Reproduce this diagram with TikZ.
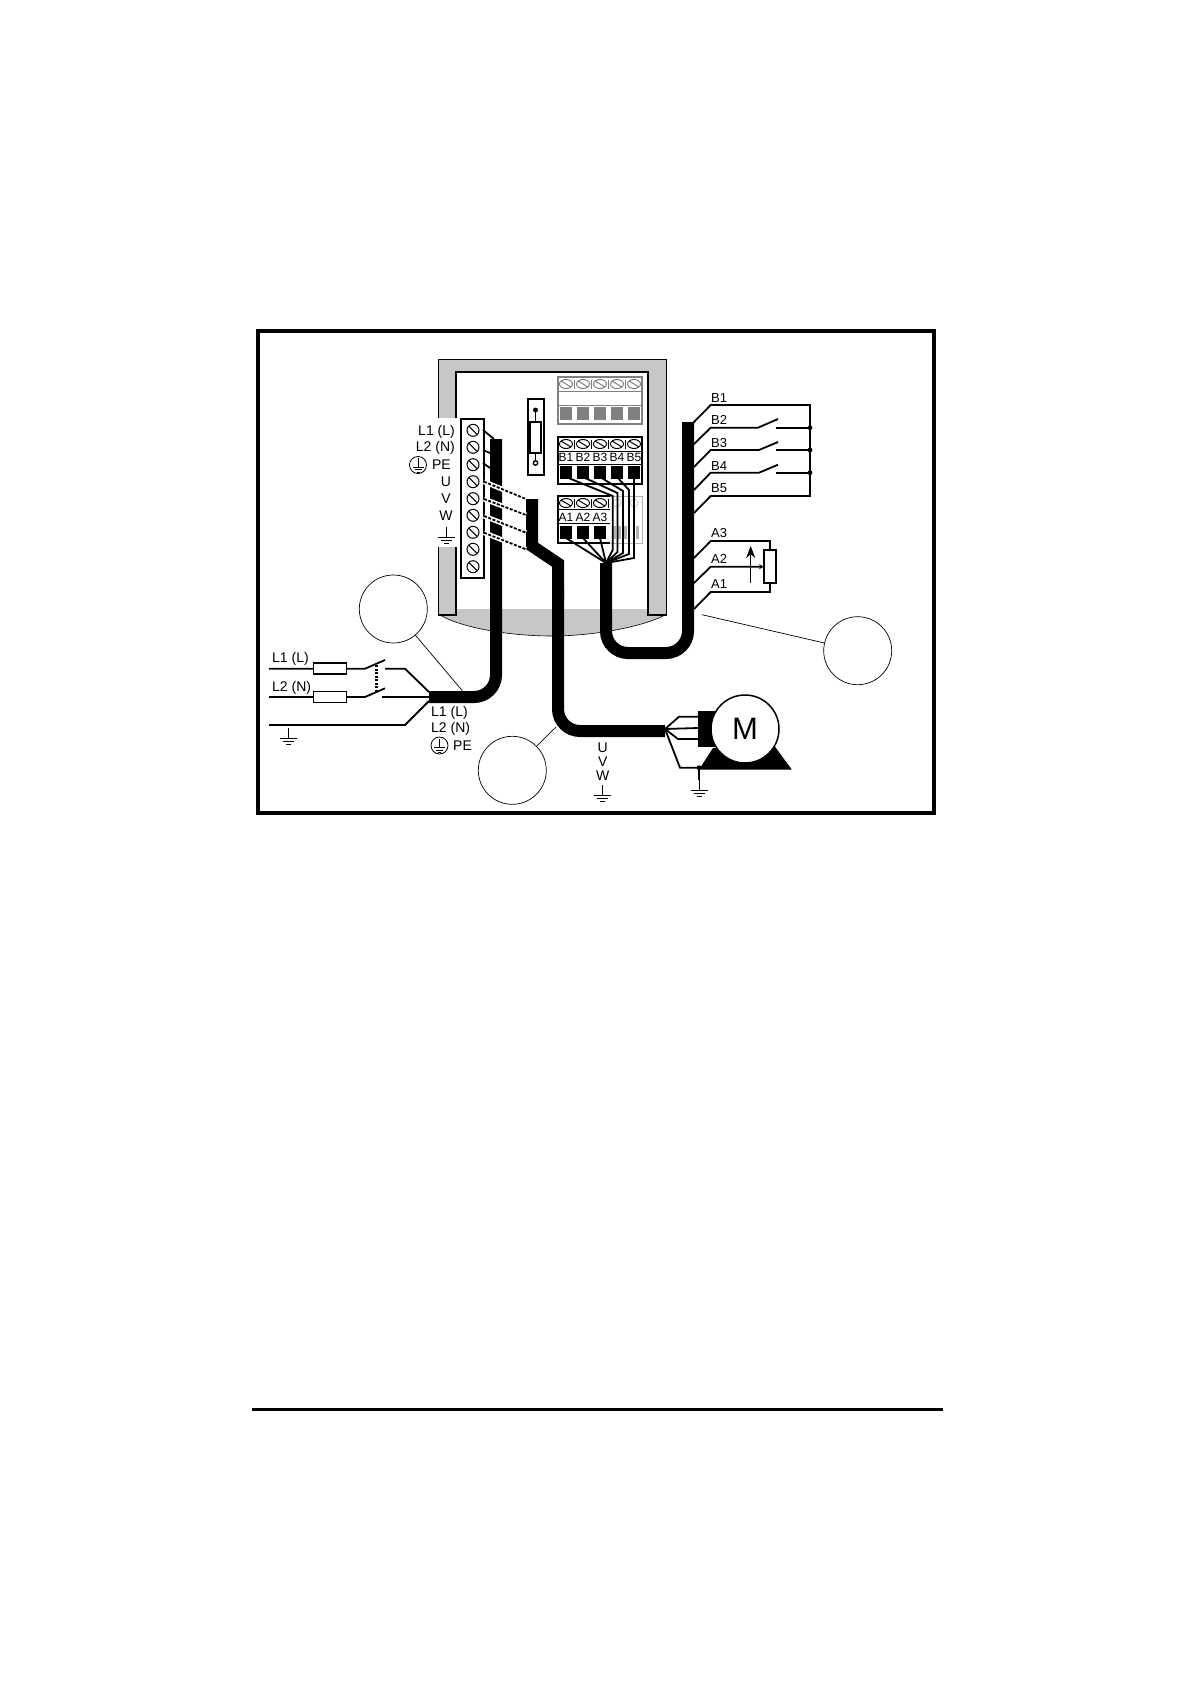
\documentclass[tikz,border=0pt]{standalone}
\usepackage{fontspec}
\setmainfont{Liberation Sans}
\usetikzlibrary{arrows.meta}
\definecolor{cabgrey}{gray}{0.78}
\definecolor{padgrey}{gray}{0.5}
\tikzset{
  wire/.style={line width=1.8pt},
  cable/.style={line width=12pt,rounded corners=22pt},
  thin line/.style={line width=0.7pt},
  callout/.style={circle,draw,line width=0.7pt,minimum size=68pt,inner sep=0pt},
  lab/.style={font=\fontsize{14}{14}\selectfont,inner sep=0pt},
  tag/.style={font=\fontsize{13}{13}\selectfont,inner sep=0pt,anchor=west},
  blocktag/.style={font=\fontsize{12}{12}\selectfont,inner sep=0pt},
  gnd/.pic={
    \draw[line width=1pt] (0,0)--(0,10);
    \draw[line width=1pt] (-8.5,10)--(8.5,10);
    \draw[line width=1pt] (-5.5,13)--(5.5,13);
    \draw[line width=1pt] (-2.5,16)--(2.5,16);
  },
  earth/.pic={
    \draw[line width=0.8pt] (0,0) circle (8.5pt);
    \draw[line width=0.8pt] (0,-7)--(0,2);
    \draw[line width=0.8pt] (-5.5,2)--(5.5,2);
    \draw[line width=0.8pt] (-3.5,4.5)--(3.5,4.5);
    \draw[line width=0.8pt] (-1.5,7)--(1.5,7);
  },
  screwrow/.pic={
    \foreach \x in {0,17,34,51,68}{
      \draw[line width=1pt] (\x,0) ellipse (6.5pt and 4.5pt);
      \draw[line width=1pt] (\x-5,-3)--(\x+5,3);
    }
    \foreach \x in {8.5,25.5,42.5,59.5}
      \draw[line width=1.8pt] (\x,-4.5)--(\x,4.5);
  }
}
\begin{document}
\begin{tikzpicture}[x=1pt,y=-1pt]
\useasboundingbox (0,0) rectangle (1190,1684);
% outer frame and bottom rule
\draw[line width=4.5pt] (258,331) rectangle (934,813);
\draw[line width=3pt] (252,1409.5)--(943,1409.5);
% cabinet
\fill[cabgrey] (456,609)--(648,609)--(648,615)--(665,615) .. controls (640,628) and (590,636) .. (552,636) .. controls (510,636) and (462,628) .. (440,615)--(456,615)--cycle;
\draw[line width=0.6pt] (665,615) .. controls (640,628) and (590,636) .. (552,636) .. controls (510,636) and (462,628) .. (440,615);
\draw[fill=cabgrey,line width=0.8pt] (438,615)--(438,359)--(666,359)--(666,615)--(648,615)--(648,372)--(456,372)--(456,615)--cycle;
\draw[line width=1.5pt] (438,615)--(456,615)--(456,372)--(648,372)--(648,615)--(666,615);
\fill[white] (436,418) rectangle (460,547);
% small fuse holder
\draw[line width=1.4pt] (528,399) rectangle (544,475);
\draw[line width=1.4pt] (535.5,410)--(535.5,460);
\fill (535.5,410) circle (2.5pt);
\draw[line width=1.4pt,fill=white] (535.5,463) circle (2.2pt);
\draw[line width=1.7pt,fill=white] (530,422) rectangle (541,453);
% grey block
\begin{scope}[padgrey]
\draw[line width=1.2pt] (558,377) rectangle (642,424);
\draw[line width=1pt] (558,391)--(642,391);
\draw[line width=0.6pt] (558,405)--(642,405);
\pic[padgrey] at (566,384) {screwrow};
\foreach \x in {566,583,600,617,634}
  \fill (\x-6,407) rectangle (\x+6,420);
\end{scope}
% B block
\draw[line width=1.2pt] (558,437) rectangle (642,484);
\draw[line width=1pt] (558,451)--(642,451);
\draw[line width=1pt] (558,464)--(642,464);
\pic at (566,444) {screwrow};
\foreach \x/\t in {566/B1,583/B2,600/B3,617/B4,634/B5}{
  \fill (\x-6,466) rectangle (\x+6,479);
  \node[blocktag] (blk\t) at (\x,457.5) {\t};
}
% A block
\draw[line width=0.6pt,gray!60] (558,496) rectangle (642,543);
\draw[line width=1.2pt] (610,496)--(558,496)--(558,543)--(610,543);
\draw[line width=1pt] (558,509)--(610,509);
\draw[line width=1pt] (558,523)--(610,523);
\pic at (566,503) {screwrow};
\fill[white] (609,497) rectangle (641,509);
\foreach \x in {617,634}
  \draw[gray!50,line width=0.7pt] (\x,503) circle (4pt);
\foreach \x in {614,619.5,625.5,637.5}
  \fill[gray!60] (\x-1.5,526) rectangle (\x+1.5,539);
\foreach \x/\t in {566/A1,583/A2,600/A3}{
  \fill (\x-6,526) rectangle (\x+6,539);
  \node[blocktag] (blk\t) at (\x,517.5) {\t};
}
% wires from the blocks into the cable
\coordinate (hub) at (606,563);
\draw[wire] (566,477)--(612.7,496)--(612.7,550)--(hub);
\draw[wire] (583,477)--(617.5,493)--(617.5,552)--(hub);
\draw[wire] (600,477)--(623,491)--(623,553)--(hub);
\draw[wire] (617,477)--(629,490)--(629,554)--(hub);
\draw[wire] (634,477)--(634,558)--(hub);
\foreach \x in {566,583,600}
  \draw[wire] (\x,538)--(hub);
% terminal strip
\draw[line width=1.3pt,fill=white] (461,419) rectangle (484,578);
\foreach \y in {430.3,447.3,464.7,481.7,498.7,515.3,532.3,549.3,566.7}{
  \draw[line width=1pt] (473,\y) circle (6pt);
  \draw[line width=1pt] (469,\y-4)--(477,\y+4);
}
% cables
\draw[cable] (429,697)--(496,697)--(496,439);
\draw[cable,rounded corners=0pt,miter limit=10] (532,499)--(532,546)--(558,563.5)--(558,600);
\draw[cable] (558,590)--(558,731)--(665,731);
\draw[cable] (606,563)--(606,653)--(688,653)--(688,422);
% wires from strip
\draw[wire] (483,430)--(494,439);
\draw[wire] (483,450)--(490,453);
\draw[wire] (483,463)--(490,468);
\foreach \ya/\yb in {481.7/499,499/515,516/532.7,532.7/549.3}{
  \draw[white,line width=5pt] (484,\ya)--(526,\yb);
  \draw[line width=1.8pt,dash pattern=on 3pt off 1.6pt] (484,\ya)--(526,\yb);
}
% mains side
\draw[wire] (269,668.7)--(365,668.7)--(385,660);
\draw[wire] (385,668.7)--(405,668.7)--(429,692);
\draw[wire] (269,697)--(365,697)--(385,688.3);
\draw[wire] (382,697)--(429,697);
\draw[wire] (269,725)--(405,725)--(429,701);
\draw[wire,fill=white] (313.5,663) rectangle (346.5,674);
\draw[wire,fill=white] (313.5,691.5) rectangle (346.5,702.5);
\draw[line width=2.5pt,dash pattern=on 2pt off 1.5pt] (376.7,665)--(376.7,692);
\pic at (288.5,728) {gnd};
\node[lab,anchor=west] (inL1) at (272,659) {L1 (L)};
\node[lab,anchor=west] (inL2) at (272,687.5) {L2 (N)};
\node[lab,anchor=west] (outL1) at (431,712.5) {L1 (L)};
\node[lab,anchor=west] (outL2) at (431,729) {L2 (N)};
\pic at (439.5,745.5) {earth};
\node[lab,anchor=west] (outPE) at (453,745.5) {PE};
% labels at the strip
\node[lab,anchor=east] (stL1) at (455,431.5) {L1 (L)};
\node[lab,anchor=east] (stL2) at (455,448) {L2 (N)};
\pic at (418,465) {earth};
\node[lab,anchor=east] (stPE) at (451,465) {PE};
\node[lab] (stU) at (446,482) {U};
\node[lab] (stV) at (446,499) {V};
\node[lab] (stW) at (446,516) {W};
\pic at (446.5,527) {gnd};
% control side
\draw[wire] (693,423)--(710.7,405)--(810,405)--(810,496)--(710.7,496)--(694,513);
\draw[wire] (694,444)--(710.7,427.7)--(758,427.7)--(778,419);
\draw[wire] (776,427.7)--(810,427.7);
\draw[wire] (694,467)--(710.7,450)--(759,450)--(778,442);
\draw[wire] (776,450)--(810,450);
\draw[wire] (694,490)--(710.7,472.7)--(759,472.7)--(778,464.7);
\draw[wire] (776,472.7)--(810,472.7);
\foreach \y in {427.7,450,472.7}
  \fill (810,\y) circle (2.4pt);
\draw[wire] (694,558)--(710.7,541)--(770,541)--(770,550);
\draw[wire] (694,609)--(710.7,592)--(770,592)--(770,583);
\draw[wire,-{Stealth[length=5pt,width=5pt]}] (694,583)--(710.7,566.7)--(764,566.7);
\draw[line width=2pt,fill=white] (764,550) rectangle (776,583);
\draw[line width=0.9pt,-{Stealth[length=12pt,width=9pt]}] (750.7,582.7)--(750.7,546);
\foreach \t/\y in {B1/397.7,B2/420.3,B3/442.7,B4/465.7,B5/488.3,A3/533.3,A2/559.3,A1/584.3}
  \node[tag] (ext\t) at (711,\y) {\t};
% motor
\fill (699,769.5)--(713,748)--(775,746.7)--(791.7,769.5)--cycle;
\fill (698.3,711) rectangle (716,746.7);
\node[circle,draw,line width=1.5pt,fill=white,minimum size=68pt,inner sep=0pt,font=\fontsize{31}{31}\selectfont] (motor) at (745,729) {M};
\coordinate (fan) at (665,729);
\draw[wire] (fan)--(679,716.7)--(698,716.7);
\draw[wire] (fan)--(698,728);
\draw[wire] (fan)--(678,739)--(698,739);
\draw[wire] (fan)--(680,767.7)--(699,767.7)--(699,780);
\fill (699,767.7) circle (2.4pt);
\pic at (699,780) {gnd};
\node[lab] (motU) at (602.7,747.3) {U};
\node[lab] (motV) at (602.7,761.7) {V};
\node[lab] (motW) at (602.7,775.7) {W};
\pic at (602.7,785) {gnd};
% call-out circles
\node[callout] (callMains) at (393.3,609) {};
\node[callout] (callMotor) at (512.3,770.3) {};
\node[callout] (callCtrl) at (857.7,650.7) {};
\coordinate (legMains) at (462.3,690.7);
\coordinate (legMotor) at (556,727);
\coordinate (legCtrl) at (702,614.7);
\draw[thin line] (callMains)--(legMains);
\draw[thin line] (callMotor)--(legMotor);
\draw[thin line] (callCtrl)--(legCtrl);
\end{tikzpicture}
\end{document}
